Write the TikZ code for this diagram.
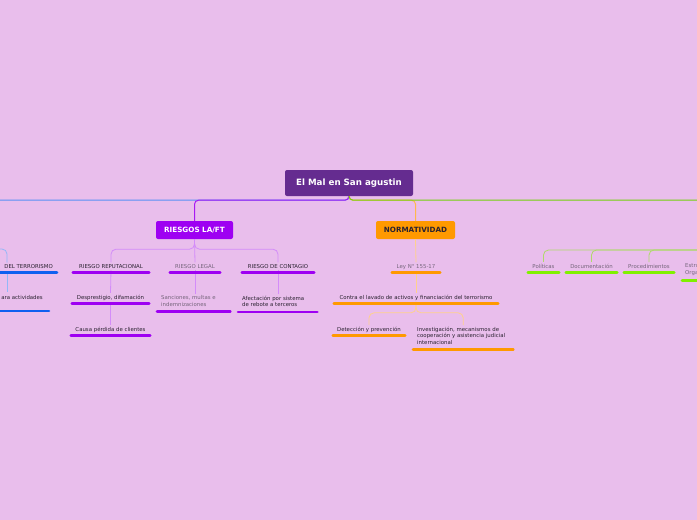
\documentclass[tikz,border=0pt]{standalone}
\usepackage{fontspec}
\setmainfont{DejaVu Sans}
\definecolor{fondo}{HTML}{E9BEEC}
\definecolor{raiz}{HTML}{652C90}
\definecolor{morado}{HTML}{9E00F2}
\definecolor{naranja}{HTML}{FF9900}
\definecolor{verde}{HTML}{80F000}
\definecolor{azul}{HTML}{1060F0}
\definecolor{texto}{HTML}{2A2230}
\definecolor{tenue}{HTML}{76667C}

\begin{document}
\begin{tikzpicture}[x=1pt,y=-1pt,
  rama/.style={line width=1pt,rounded corners=4pt},
  sub/.style={line width=0.8pt,rounded corners=5pt},
  raya/.style={line width=2.6pt,line cap=round},
  tema/.style={inner xsep=0pt,inner ysep=1.5pt,text=texto,font=\fontsize{5.4}{6.6}\selectfont},
  caja/.style={rounded corners=2pt,minimum height=18pt,font=\fontsize{7.2}{8}\selectfont\bfseries}]
  \fill[fondo] (0,0) rectangle (697,520);
  \clip (0,0) rectangle (697,520);

  % central topic and main branches
  \node[caja,fill=raiz,text=white,minimum width=128pt,minimum height=26pt,
    font=\fontsize{8.7}{10}\selectfont\bfseries] (mal) at (349,183) {El Mal en San agustin};
  \node[caja,fill=morado,text=white,minimum width=77pt] (riesgos) at (194.5,230) {RIESGOS LA/FT};
  \node[caja,fill=naranja,text=texto,minimum width=79pt] (norma) at (415.5,230) {NORMATIVIDAD};
  \coordinate (izq) at (-5,200);
  \coordinate (der) at (702,200);
  \coordinate (izqb) at (-5,249);
  \coordinate (derb) at (702,250);

  \draw[rama,azul!70] (mal.south) -- ++(0,4) -- (izq);
  \draw[rama,morado!90] (mal.south) -- ++(0,4) -| (riesgos.north);
  \draw[rama,naranja!70] (mal.south) -- ++(0,4) -| (norma.north);
  \draw[rama,verde!85!black!95] (mal.south) -- ++(0,4) -- (der);

  % riesgos
  \node[tema,anchor=base,minimum width=76pt] (reput) at (111,268) {RIESGO REPUTACIONAL};
  \node[tema,anchor=base,minimum width=50pt,text=tenue] (legal) at (195,268) {RIESGO LEGAL};
  \node[tema,anchor=base,minimum width=72pt] (conta) at (278,268) {RIESGO DE CONTAGIO};
  \node[tema,anchor=base east] (terror) at (53,268) {DEL TERRORISMO};
  \node[tema,anchor=base,minimum width=77pt] (despr) at (110.5,299) {Desprestigio, difamación};
  \node[tema,anchor=base,minimum width=79pt] (causa) at (110.5,331) {Causa pérdida de clientes};
  \node[tema,anchor=north west,text width=65pt,inner xsep=5pt,align=left,text=tenue]
    (sanc) at (156,294) {Sanciones, multas e\\indemnizaciones};
  \node[tema,anchor=north west,text width=71pt,inner xsep=5pt,align=left]
    (afect) at (237,294) {Afectación por sistema\\de rebote a terceros};
  \node[tema,anchor=base east] (activ) at (43,299) {ara actividades};

  \draw[sub,morado!45] (riesgos.south) -- ++(0,10) -| (reput.north);
  \draw[sub,morado!45] (riesgos.south) -- ++(0,10) -| (conta.north);
  \draw[sub,morado!45] (riesgos.south) -- (legal.north);
  \draw[sub,azul!45] (izqb) -| (7,262.5);
  \draw[sub,morado!45] (reput.south) -- (despr.north);
  \draw[sub,morado!45] (despr.south) -- (causa.north);
  \draw[sub,morado!45] (legal.south) -- (sanc.north -| legal.south);
  \draw[sub,morado!45] (conta.south) -- (afect.north -| conta.south);
  \draw[sub,azul!45] (7,274) -- (7,292);

  % normatividad
  \node[tema,anchor=base,minimum width=48pt,text=tenue] (ley) at (416,268) {Ley N° 155-17};
  \node[tema,anchor=base,minimum width=164pt] (contra) at (416,299)
    {Contra el lavado de activos y financiación del terrorismo};
  \node[tema,anchor=base,minimum width=72pt] (detec) at (369,331) {Detección y prevención};
  \node[tema,anchor=north west,text width=92pt,inner xsep=5pt,align=left]
    (invest) at (412,325) {Investigación, mecanismos de\\cooperación y asistencia judicial\\internacional};

  \draw[sub,naranja!45] (norma.south) -- (ley.north);
  \draw[sub,naranja!45] (ley.south) -- (contra.north);
  \draw[sub,naranja!45] (contra.south) -- ++(0,11) -| (detec.north);
  \draw[sub,naranja!45] (contra.south) -- ++(0,11) -| (invest.north);

  % rama verde
  \node[tema,anchor=base,minimum width=31pt,text=tenue] (polit) at (543.5,268) {Políticas};
  \node[tema,anchor=base,minimum width=51pt,text=tenue] (docum) at (591.5,268) {Documentación};
  \node[tema,anchor=base,minimum width=50pt,text=tenue] (proced) at (649,268) {Procedimientos};
  \node[tema,anchor=north west,text width=60pt,inner xsep=4pt,align=left,text=tenue]
    (estruc) at (681,262) {Estructura\\Organizacional};
  \draw[sub,verde!55!fondo] (derb) -| (polit.north);
  \draw[sub,verde!55!fondo] (derb) -| (docum.north);
  \draw[sub,verde!55!fondo] (derb) -| (proced.north);

  % underlines
  \foreach \n/\c in {reput/morado,legal/morado,conta/morado,despr/morado,causa/morado,
      ley/naranja,contra/naranja,detec/naranja,polit/verde,docum/verde,proced/verde}
    \draw[raya,\c] ([yshift=-4.5pt]\n.base west) -- ([yshift=-4.5pt]\n.base east);
  \foreach \n/\c in {sanc/morado,afect/morado,invest/naranja,estruc/verde}
    \draw[raya,\c] ([xshift=1pt,yshift=-3.5pt]\n.south west) -- ([xshift=-1pt,yshift=-3.5pt]\n.south east);
  \draw[raya,azul] (-5,272.5) -- ([xshift=4pt,yshift=-4.5pt]terror.base east);
  \draw[raya,azul] (-5,311) -- ([xshift=6pt]activ.base east |- 0,311);
\end{tikzpicture}
\end{document}
